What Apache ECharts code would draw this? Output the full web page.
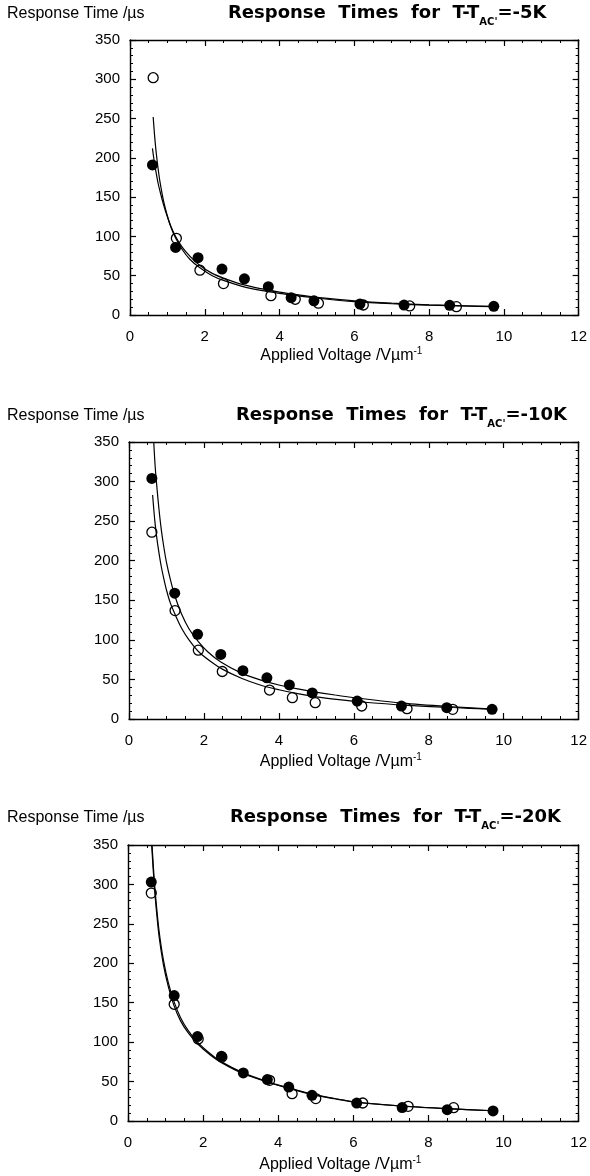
<!DOCTYPE html>
<html>
<head>
<meta charset="utf-8">
<script src="https://cdn.jsdelivr.net/npm/echarts@6/dist/echarts.min.js"></script>
<style>
  html, body { margin: 0; padding: 0; background: #fff; }
  #chart { width: 590px; height: 1176px; }
</style>
</head>
<body>
<div id="chart"></div>
<script>
// panel titles
const panelTemps = ["-5K", "-10K", "-20K"];

// T-T_AC' = -5K
const filled5X = [0.60, 1.22, 1.82, 2.46, 3.06, 3.70, 4.31, 4.92, 6.15, 7.33, 8.55, 9.73];
const filled5Y = [191, 86, 73, 58.5, 46, 36, 22, 18, 14, 12.7, 12.3, 11];
const open5X = [0.62, 1.24, 1.87, 2.50, 3.77, 4.42, 5.04, 6.24, 7.48, 8.73];
const open5Y = [302, 97.6, 57, 40, 24.6, 20, 15, 12.7, 11.5, 10.6];
const fitA5X = [0.62, 0.66, 0.70, 0.75, 0.80, 0.90, 1.00, 1.10, 1.22, 1.40, 1.60, 1.87, 2.20, 2.50, 3.00, 3.50, 4.00, 4.50, 5.00, 6.00, 7.00, 8.00, 9.00, 9.70];
const fitA5Y = [252, 227, 207, 187, 170, 144.5, 126, 111, 98, 83, 71, 60, 50, 44, 36.5, 31.3, 27.5, 24.3, 21.5, 17, 14.3, 12.5, 11.3, 10.7];
const fitB5X = [0.60, 0.65, 0.70, 0.75, 0.80, 0.90, 1.00, 1.10, 1.22, 1.40, 1.60, 1.87, 2.20, 2.50, 3.00, 3.50, 4.00, 4.50, 5.00, 6.00, 7.00, 8.00, 9.00, 9.70];
const fitB5Y = [212, 195, 181, 168, 158, 140, 125, 112, 100, 86, 75, 63, 53, 47, 39, 33.5, 29, 25.5, 22.5, 18, 15, 13, 11.8, 11];

// T-T_AC' = -10K
const filled10X = [0.61, 1.22, 1.83, 2.45, 3.04, 3.68, 4.28, 4.89, 6.09, 7.27, 8.48, 9.69];
const filled10Y = [304, 159, 107, 81.6, 61, 52, 43, 33, 22.7, 16.4, 14.3, 12.2];
const open10X = [0.61, 1.23, 1.85, 2.49, 3.75, 4.36, 4.97, 6.21, 7.42, 8.64];
const open10Y = [236, 137, 87, 60, 36.6, 27, 20.6, 16.4, 13, 12.2];
const fitA10X = [0.66, 0.70, 0.75, 0.80, 0.86, 0.93, 1.00, 1.10, 1.22, 1.40, 1.60, 1.83, 2.10, 2.45, 3.00, 3.50, 4.00, 4.50, 4.89, 5.50, 6.10, 7.30, 8.50, 9.70];
const fitA10Y = [350, 318, 290, 265, 240, 217, 198, 177, 156, 133, 114, 99, 85, 72, 58, 49.5, 43, 38, 34.7, 30.3, 26.5, 20, 15.8, 12.6];
const fitB10X = [0.63, 0.69, 0.75, 0.80, 0.86, 0.93, 1.00, 1.10, 1.24, 1.40, 1.60, 1.88, 2.20, 2.49, 3.00, 3.50, 4.00, 4.50, 5.00, 5.60, 6.21, 7.42, 8.64, 9.70];
const fitB10Y = [283, 250, 226, 210, 193, 177, 163, 147, 131, 115, 100, 84, 72, 63, 51.5, 43, 37, 32, 28, 24.5, 21.5, 17.3, 14.5, 12.3];

// T-T_AC' = -20K
const filled20X = [0.62, 1.23, 1.85, 2.49, 3.07, 3.71, 4.28, 4.90, 6.09, 7.30, 8.50, 9.72];
const filled20Y = [303, 159, 107, 82, 61, 52.5, 43, 32.6, 22.8, 17, 14.4, 12.7];
const open20X = [0.62, 1.23, 1.87, 2.50, 3.77, 4.37, 5.00, 6.25, 7.46, 8.67];
const open20Y = [289, 148, 104, 81, 51.6, 34.7, 28.4, 22.8, 18.6, 16.9];
const fitA20X = [0.64, 0.70, 0.76, 0.83, 0.94, 1.07, 1.22, 1.40, 1.60, 1.85, 2.20, 2.49, 3.07, 3.71, 4.28, 4.90, 5.50, 6.09, 7.30, 8.50, 9.72];
const fitA20Y = [350, 305, 272, 240, 205, 176, 152, 131, 115, 100, 85, 75, 61, 50, 42, 34, 28.5, 24, 19, 15.7, 13];
const fitB20X = [0.63, 0.70, 0.76, 0.83, 0.94, 1.07, 1.22, 1.40, 1.60, 1.85, 2.20, 2.49, 3.07, 3.71, 4.28, 4.90, 5.50, 6.09, 7.30, 8.50, 9.72];
const fitB20Y = [350, 298, 265, 233, 199, 171, 147, 127, 112, 98, 83.5, 74, 60, 49.5, 41.5, 33.5, 28.2, 23.8, 18.9, 15.6, 13];

// axis ticks
const xTicks = [0, 2, 4, 6, 8, 10, 12];
const yTicks = [0, 50, 100, 150, 200, 250, 300, 350];

const panels = [
  { filled: [filled5X, filled5Y], open: [open5X, open5Y], fits: [[fitA5X, fitA5Y], [fitB5X, fitB5Y]] },
  { filled: [filled10X, filled10Y], open: [open10X, open10Y], fits: [[fitA10X, fitA10Y], [fitB10X, fitB10Y]] },
  { filled: [filled20X, filled20Y], open: [open20X, open20Y], fits: [[fitA20X, fitA20Y], [fitB20X, fitB20Y]] },
];

const grids = [
  { left: 130, right: 10, top: 40, height: 275 },
  { left: 129, right: 10, top: 442, height: 277 },
  { left: 128, right: 10, top: 845, height: 276 },
];
const headTops = [6, 408, 810];
const titleLefts = [228, 236, 230];
const nameGaps = [31, 33, 34];

const FONT = "'Liberation Sans', Arial, sans-serif";
const TITLE_FONT = "'DejaVu Sans', sans-serif";
const ink = "#000";

function zip(xs, ys) {
  return xs.map((x, i) => [x, ys[i]]);
}

const xAxes = [];
const yAxes = [];
const series = [];
const titles = [];

grids.forEach((g, i) => {
  const axisBase = {
    gridIndex: i,
    type: "value",
    axisLine: { show: true, onZero: false, lineStyle: { color: ink, width: 1.4 } },
    axisTick: { show: true, inside: true, length: 6, lineStyle: { color: ink, width: 1.2 } },
    minorTick: { show: true, length: 3, lineStyle: { color: ink, width: 1 } },
    splitLine: { show: false },
  };
  xAxes.push({
    ...axisBase,
    position: "bottom",
    min: xTicks[0],
    max: xTicks[xTicks.length - 1],
    interval: xTicks[1] - xTicks[0],
    minorTick: { ...axisBase.minorTick, splitNumber: 4 },
    axisLabel: { color: ink, fontSize: 15, fontFamily: FONT, margin: 14 },
    name: "Applied Voltage /Vµm{sup|-1}",
    nameLocation: "middle",
    nameGap: nameGaps[i],
    nameTextStyle: {
      color: ink, fontSize: 16, fontFamily: FONT, lineHeight: 20, padding: [0, 26, 0, 0],
      rich: { sup: { fontSize: 10, fontFamily: FONT, color: ink, verticalAlign: "top", lineHeight: 10 } },
    },
  });
  xAxes.push({
    ...axisBase,
    position: "top",
    min: xTicks[0],
    max: xTicks[xTicks.length - 1],
    interval: xTicks[1] - xTicks[0],
    minorTick: { ...axisBase.minorTick, splitNumber: 4 },
    axisLabel: { show: false },
  });
  yAxes.push({
    ...axisBase,
    position: "left",
    min: yTicks[0],
    max: yTicks[yTicks.length - 1],
    interval: yTicks[1] - yTicks[0],
    minorTick: { ...axisBase.minorTick, splitNumber: 5 },
    axisLabel: { color: ink, fontSize: 15, fontFamily: FONT, margin: 10 },
  });
  yAxes.push({
    ...axisBase,
    position: "right",
    min: yTicks[0],
    max: yTicks[yTicks.length - 1],
    interval: yTicks[1] - yTicks[0],
    minorTick: { ...axisBase.minorTick, splitNumber: 5 },
    axisLabel: { show: false },
  });

  const p = panels[i];
  p.fits.forEach(([xs, ys]) => {
    series.push({
      type: "line",
      xAxisIndex: i * 2,
      yAxisIndex: i * 2,
      data: zip(xs, ys),
      smooth: 0.3,
      showSymbol: false,
      lineStyle: { color: ink, width: 1.2 },
      silent: true,
    });
  });
  series.push({
    type: "scatter",
    xAxisIndex: i * 2,
    yAxisIndex: i * 2,
    data: zip(p.open[0], p.open[1]),
    symbol: "circle",
    symbolSize: 10,
    itemStyle: { color: "#fff", borderColor: ink, borderWidth: 1.3, opacity: 1 },
  });
  series.push({
    type: "scatter",
    xAxisIndex: i * 2,
    yAxisIndex: i * 2,
    data: zip(p.filled[0], p.filled[1]),
    symbol: "circle",
    symbolSize: 11,
    itemStyle: { color: ink, opacity: 1 },
  });

  titles.push({
    text: "Response Time /µs",
    left: 7,
    top: headTops[i],
    padding: 0,
    textStyle: { color: ink, fontSize: 16, fontWeight: "normal", fontFamily: FONT },
  });
  titles.push({
    text: "Response  Times  for  T-T{sub|AC'}=" + panelTemps[i],
    left: titleLefts[i],
    top: headTops[i] - 6,
    padding: 0,
    textStyle: {
      color: ink, fontSize: 18, fontWeight: "bold", fontFamily: TITLE_FONT, lineHeight: 27,
      rich: { sub: { fontSize: 10, fontWeight: "bold", fontFamily: TITLE_FONT, color: ink, verticalAlign: "bottom", lineHeight: 11 } },
    },
  });
});

const chart = echarts.init(document.getElementById("chart"), null, { renderer: "canvas" });
chart.setOption({
  animation: false,
  backgroundColor: "#fff",
  title: titles,
  grid: grids,
  xAxis: xAxes,
  yAxis: yAxes,
  series: series,
});
</script>
</body>
</html>
